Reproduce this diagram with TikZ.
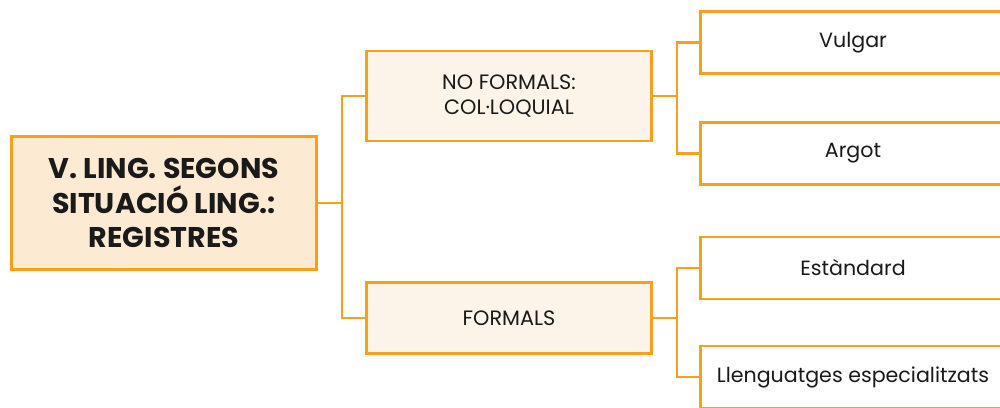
\documentclass[tikz,border=0pt]{standalone}
\usepackage{fontspec}
\newfontfamily\popp{Poppins}
\definecolor{orangeline}{HTML}{F5A11E}
\definecolor{rootfill}{HTML}{FDEAD3}
\definecolor{midfill}{HTML}{FDF4E9}
\definecolor{txt}{HTML}{1A1A1A}
\begin{document}
\begin{tikzpicture}[x=1pt,y=-1pt,
  box/.style={draw=orangeline,line width=2.8pt,align=center,text=txt,inner sep=0pt},
  rootbox/.style={box,fill=rootfill,minimum width=305,minimum height=133,
     font={\popp\bfseries\fontsize{28.5}{34.5}\selectfont}},
  midbox/.style={box,fill=midfill,minimum width=285,
     font={\popp\fontsize{20.8}{25}\selectfont}},
  leafbox/.style={box,fill=white,minimum width=305,minimum height=62,
     font={\popp\fontsize{20.6}{25}\selectfont}},
  link/.style={draw=orangeline,line width=2.8pt,line join=miter}]
\useasboundingbox (0,0) rectangle (1000,407);
\clip (0,0) rectangle (1000,407);
\node[rootbox] (root) at (164,203) {V. LING. SEGONS\\SITUACIÓ LING.:\\REGISTRES};
\node[midbox,minimum height=90] (m1) at (509,96) {NO FORMALS:\\COL·LOQUIAL};
\node[midbox,minimum height=71] (m2) at (509,318) {FORMALS};
\node[leafbox] (l1) at (853,42.5) {Vulgar};
\node[leafbox] (l2) at (853,153.5) {Argot};
\node[leafbox] (l3) at (853,268) {Estàndard};
\node[leafbox] (l4) at (853,377) {Llenguatges especialitzats};
\coordinate (j0) at (342,203);
\coordinate (j1) at (677,96);
\coordinate (j2) at (677,318);
\draw[link] (root.east) -- (j0);
\draw[link] (m1.west) -- (j0 |- m1.west) -- (j0 |- m2.west) -- (m2.west);
\draw[link] (m1.east) -- (j1);
\draw[link] (l1.west) -- (j1 |- l1.west) -- (j1 |- l2.west) -- (l2.west);
\draw[link] (m2.east) -- (j2);
\draw[link] (l3.west) -- (j2 |- l3.west) -- (j2 |- l4.west) -- (l4.west);
\end{tikzpicture}
\end{document}
